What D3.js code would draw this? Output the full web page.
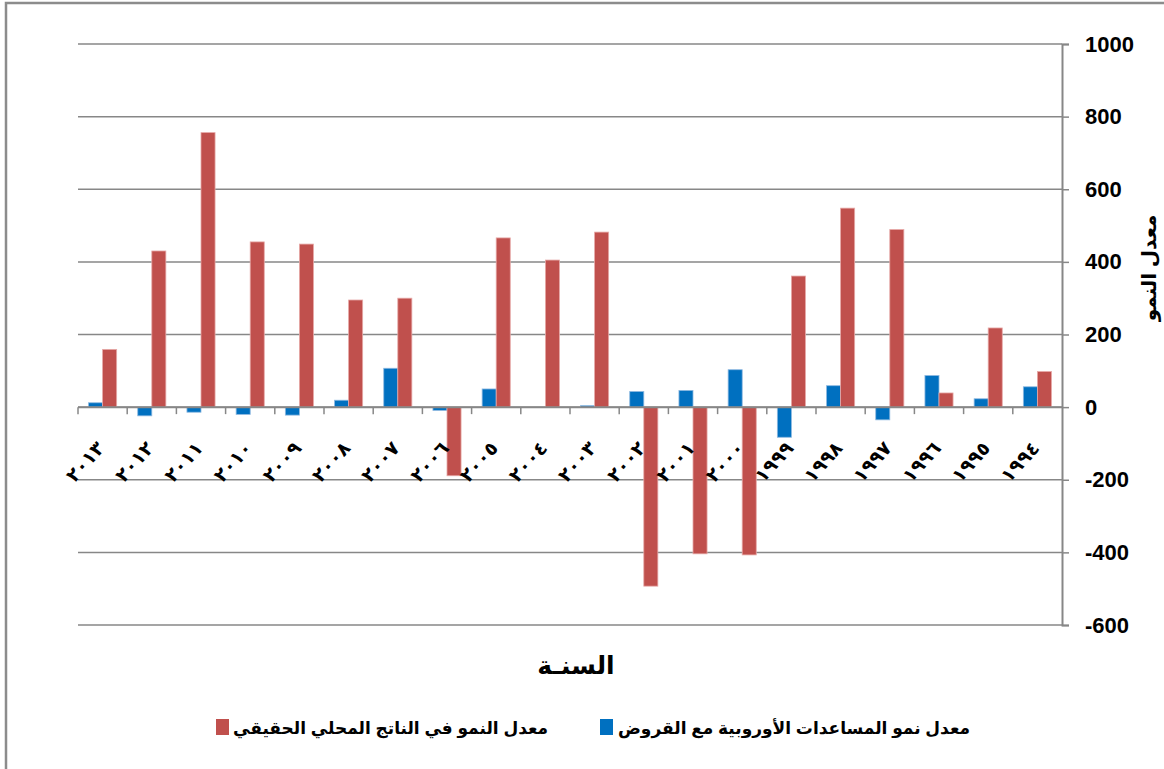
<!DOCTYPE html>
<html>
<head>
<meta charset="utf-8">
<script src="https://cdn.jsdelivr.net/npm/d3@7"></script>
<style>
	body { margin: 0; background: #fff; }
	text { font-family: Arial, "Liberation Sans", "DejaVu Sans", sans-serif; font-weight: bold; fill: #000; }
</style>
</head>
<body>
<script>
// years shown right to left in the original, listed here in drawing order (left to right)
var years = ["٢٠١٣", "٢٠١٢", "٢٠١١", "٢٠١٠", "٢٠٠٩", "٢٠٠٨", "٢٠٠٧", "٢٠٠٦", "٢٠٠٥", "٢٠٠٤",
	"٢٠٠٣", "٢٠٠٢", "٢٠٠١", "٢٠٠٠", "١٩٩٩", "١٩٩٨", "١٩٩٧", "١٩٩٦", "١٩٩٥", "١٩٩٤"];

// growth of european aid with loans (blue)
var aid_growth = [12, -24, -14, -20, -22, 19, 107, -9, 50, 0,
	4, 43, 46, 103, -83, 59, -35, 87, 23, 56];

// growth of real GDP (red)
var gdp_growth = [159, 430, 756, 455, 449, 295, 300, -189, 466, 405,
	482, -493, -404, -407, 361, 548, 489, 39, 218, 98];

var y_ticks = [1000, 800, 600, 400, 200, 0, -200, -400, -600];

var series_names = ["معدل نمو المساعدات الأوروبية مع القروض", "معدل النمو في الناتج المحلي الحقيقي"];
var series_colors = ["#0070C0", "#C0504D"];
var series_edges = ["#8db8e0", "#e6a9a7"];

var x_title = "السنـة";
var y_title = "معدل النمو";

window.onload = function() {
	w = 1164;
	h = 769;
	grid_color = "#878787";

	var svg = d3.select("body")
		.append("svg")
		.attr("width", w)
		.attr("height", h);

	// outer chart border (only left and top are visible in the frame)
	svg.append("rect")
		.attr("x", 6)
		.attr("y", 3)
		.attr("width", w + 20)
		.attr("height", h + 20)
		.attr("fill", "none")
		.attr("stroke", "#8c8c8c")
		.attr("stroke-width", 2.5);

	var x = d3.scaleBand()
		.domain(years)
		.range([78, 1062])
		.paddingInner(0)
		.paddingOuter(0);

	var x_inner = d3.scaleBand()
		.domain([0, 1])
		.range([0, x.bandwidth()])
		.paddingInner(0)
		.paddingOuter(0.75);

	var y = d3.scaleLinear()
		.domain([-600, 1000])
		.range([625, 44]);

	// grid lines
	svg.append("g")
		.selectAll("line")
		.data(y_ticks)
		.join("line")
		.attr("x1", 78)
		.attr("x2", 1062)
		.attr("y1", function(d) { return y(d); })
		.attr("y2", function(d) { return y(d); })
		.attr("stroke", grid_color)
		.attr("stroke-width", 1.5);

	// bars
	var groups = svg.append("g")
		.selectAll("g")
		.data(years)
		.join("g")
		.attr("transform", function(d) { return "translate(" + x(d) + ",0)"; });

	groups.selectAll("rect")
		.data(function(d, i) { return [aid_growth[i], gdp_growth[i]]; })
		.join("rect")
		.attr("x", function(d, i) { return x_inner(i); })
		.attr("width", x_inner.bandwidth())
		.attr("y", function(d) { return y(Math.max(0, d)); })
		.attr("height", function(d) { return Math.abs(y(d) - y(0)); })
		.attr("fill", function(d, i) { return series_colors[i]; })
		.attr("stroke", function(d, i) { return series_edges[i]; })
		.attr("stroke-width", function(d) { return d == 0 ? 0 : 0.8; });

	// category axis at zero, ticks between categories
	var x_axis = svg.append("g")
		.attr("transform", "translate(0," + y(0) + ")");
	x_axis.append("line")
		.attr("x1", 78)
		.attr("x2", 1062)
		.attr("stroke", grid_color)
		.attr("stroke-width", 2);
	x_axis.selectAll("line.tick")
		.data(years)
		.join("line")
		.attr("class", "tick")
		.attr("x1", function(d) { return x(d); })
		.attr("x2", function(d) { return x(d); })
		.attr("y1", 0)
		.attr("y2", 7)
		.attr("stroke", grid_color)
		.attr("stroke-width", 1.5);

	svg.append("g")
		.selectAll("text")
		.data(years)
		.join("text")
		.attr("transform", function(d) {
			return "translate(" + (x(d) + x.bandwidth() / 2 + 3) + "," + 449 + ") rotate(-48)";
		})
		.attr("text-anchor", "end")
		.style("font-size", "19px")
		.style("letter-spacing", "1px")
		.text(function(d) { return d; });

	// value axis on the right
	var y_axis = d3.axisRight(y)
		.tickValues(y_ticks)
		.tickSize(7)
		.tickPadding(16)
		.tickFormat(function(d) { return String(d); });

	svg.append("g")
		.attr("transform", "translate(1062,0)")
		.call(y_axis)
		.call(function(g) {
			g.select(".domain").attr("stroke", grid_color).attr("stroke-width", 2);
			g.selectAll(".tick line").attr("stroke", grid_color).attr("stroke-width", 1.5);
			g.selectAll(".tick text")
				.style("font-size", "22px")
				.attr("fill", "#000");
		});

	// axis titles
	svg.append("text")
		.attr("x", 576)
		.attr("y", 674)
		.attr("text-anchor", "middle")
		.style("font-size", "25px")
		.text(x_title);

	svg.append("text")
		.attr("transform", "translate(1156,268) rotate(-90)")
		.attr("text-anchor", "middle")
		.style("font-size", "20px")
		.text(y_title);

	// legend, first series on the right
	var legend_items = [{square: 600, text: 618}, {square: 216, text: 233}];
	var legend = svg.append("g")
		.selectAll("g")
		.data(series_names)
		.join("g");
	legend.append("rect")
		.attr("x", function(d, i) { return legend_items[i].square; })
		.attr("y", 719)
		.attr("width", 13)
		.attr("height", 16)
		.attr("fill", function(d, i) { return series_colors[i]; });
	legend.append("text")
		.attr("x", function(d, i) { return legend_items[i].text; })
		.attr("y", 734)
		.attr("text-anchor", "start")
		.attr("direction", "ltr")
		.style("font-size", "17px")
		.text(function(d) { return d; });
}
</script>
</body>
</html>
